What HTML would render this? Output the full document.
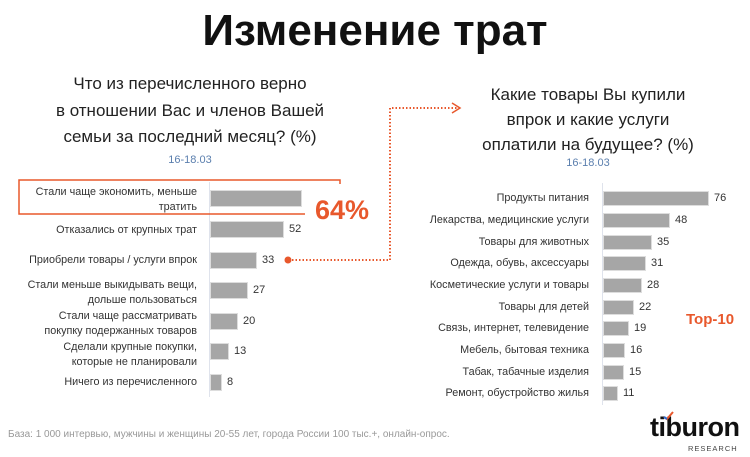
<!DOCTYPE html>
<html><head><meta charset="utf-8"><style>
body{margin:0;width:750px;height:457px;background:#fff;font-family:"Liberation Sans","DejaVu Sans",sans-serif;position:relative;overflow:hidden}
.a{position:absolute;white-space:nowrap}
.lbl{position:absolute;font-size:10.8px;color:#333;text-align:right;line-height:14.5px}
.bar{position:absolute;background:#a6a6a6;border:1px solid #ddd;box-sizing:border-box}
.v{position:absolute;font-size:11px;color:#333}
</style></head><body>
<div class="a" style="left:0;width:750px;top:6px;text-align:center;font-size:44px;font-weight:bold;color:#111">Изменение трат</div>
<div class="a" style="left:40px;width:300px;top:71px;text-align:center;font-size:17px;line-height:26.5px;color:#222">Что из перечисленного верно<br>в отношении Вас и членов Вашей<br>семьи за последний месяц? (%)</div>
<div class="a" style="left:140px;width:100px;top:154px;text-align:center;font-size:11px;color:#5b7fae">16-18.03</div>
<div class="a" style="left:440px;width:296px;top:82px;text-align:center;font-size:17px;line-height:25px;color:#222">Какие товары Вы купили<br>впрок и какие услуги<br>оплатили на будущее? (%)</div>
<div class="a" style="left:538px;width:100px;top:157px;text-align:center;font-size:11px;color:#5b7fae">16-18.03</div>

<div style="position:absolute;left:209px;top:182px;width:1px;height:215px;background:#dfe3ec"></div>
<div style="position:absolute;left:602px;top:183px;width:1px;height:222px;background:#dfe3ec"></div>

<svg style="position:absolute;left:0;top:0" width="750" height="457">
<path d="M340 184 V180 H19 V214 H305" fill="none" stroke="#e8582c" stroke-width="1.5"/>
<circle cx="288" cy="260" r="3.5" fill="#e8582c"/>
<path d="M292 260 H390 V108 H458" fill="none" stroke="#e8582c" stroke-width="2" stroke-dasharray="1.5 2"/>
<path d="M452 103 L460 108 L452 113" fill="none" stroke="#e8582c" stroke-width="1.5"/>
</svg>
<div class="a" style="left:315px;top:195px;font-size:27px;font-weight:bold;color:#e8582c">64%</div>
<div class="a" style="left:686px;top:311px;font-size:15px;font-weight:bold;color:#e8582c">Top-10</div>

<div class="lbl" style="right:553px;top:185px">Стали чаще экономить, меньше<br>тратить</div>
<div class="bar" style="left:210px;top:190px;width:92px;height:17px"></div>
<div class="lbl" style="right:553px;top:223px">Отказались от крупных трат</div>
<div class="bar" style="left:210px;top:221px;width:74px;height:17px"></div><div class="v" style="left:289px;top:223px">52</div>
<div class="lbl" style="right:553px;top:253px">Приобрели товары / услуги впрок</div>
<div class="bar" style="left:210px;top:252px;width:47px;height:17px"></div><div class="v" style="left:262px;top:254px">33</div>
<div class="lbl" style="right:553px;top:278px">Стали меньше выкидывать вещи,<br>дольше пользоваться</div>
<div class="bar" style="left:210px;top:282px;width:38px;height:17px"></div><div class="v" style="left:253px;top:284px">27</div>
<div class="lbl" style="right:553px;top:309px">Стали чаще рассматривать<br>покупку подержанных товаров</div>
<div class="bar" style="left:210px;top:313px;width:28px;height:17px"></div><div class="v" style="left:243px;top:315px">20</div>
<div class="lbl" style="right:553px;top:340px">Сделали крупные покупки,<br>которые не планировали</div>
<div class="bar" style="left:210px;top:343px;width:19px;height:17px"></div><div class="v" style="left:234px;top:345px">13</div>
<div class="lbl" style="right:553px;top:375px">Ничего из перечисленного</div>
<div class="bar" style="left:210px;top:374px;width:12px;height:17px"></div><div class="v" style="left:227px;top:376px">8</div>

<div class="lbl" style="right:161px;top:191px">Продукты питания</div><div class="bar" style="left:603px;top:191px;width:106px;height:15px"></div><div class="v" style="left:714px;top:192px">76</div>
<div class="lbl" style="right:161px;top:213px">Лекарства, медицинские услуги</div><div class="bar" style="left:603px;top:213px;width:67px;height:15px"></div><div class="v" style="left:675px;top:214px">48</div>
<div class="lbl" style="right:161px;top:235px">Товары для животных</div><div class="bar" style="left:603px;top:235px;width:49px;height:15px"></div><div class="v" style="left:657px;top:236px">35</div>
<div class="lbl" style="right:161px;top:256px">Одежда, обувь, аксессуары</div><div class="bar" style="left:603px;top:256px;width:43px;height:15px"></div><div class="v" style="left:651px;top:257px">31</div>
<div class="lbl" style="right:161px;top:278px">Косметические услуги и товары</div><div class="bar" style="left:603px;top:278px;width:39px;height:15px"></div><div class="v" style="left:647px;top:279px">28</div>
<div class="lbl" style="right:161px;top:300px">Товары для детей</div><div class="bar" style="left:603px;top:300px;width:31px;height:15px"></div><div class="v" style="left:639px;top:301px">22</div>
<div class="lbl" style="right:161px;top:321px">Связь, интернет, телевидение</div><div class="bar" style="left:603px;top:321px;width:26px;height:15px"></div><div class="v" style="left:634px;top:322px">19</div>
<div class="lbl" style="right:161px;top:343px">Мебель, бытовая техника</div><div class="bar" style="left:603px;top:343px;width:22px;height:15px"></div><div class="v" style="left:630px;top:344px">16</div>
<div class="lbl" style="right:161px;top:365px">Табак, табачные изделия</div><div class="bar" style="left:603px;top:365px;width:21px;height:15px"></div><div class="v" style="left:629px;top:366px">15</div>
<div class="lbl" style="right:161px;top:386px">Ремонт, обустройство жилья</div><div class="bar" style="left:603px;top:386px;width:15px;height:15px"></div><div class="v" style="left:623px;top:387px">11</div>

<div class="a" style="left:8px;top:429px;font-size:10px;color:#999">База: 1 000 интервью, мужчины и женщины 20-55 лет, города России 100 тыс.+, онлайн-опрос.</div>
<div class="a" style="left:650px;top:412px;font-size:27px;font-weight:bold;color:#111;letter-spacing:-0.5px">tiburon</div>
<div class="a" style="left:688px;top:444px;font-size:7.5px;color:#444;letter-spacing:1px">RESEARCH</div>
<svg style="position:absolute;left:663px;top:411px" width="12" height="10"><path d="M1 6 L4 8 L10 1" fill="none" stroke="#e8582c" stroke-width="2"/><path d="M1 6 L4 8" stroke="#2b6fd6" stroke-width="2"/></svg>
</body></html>
